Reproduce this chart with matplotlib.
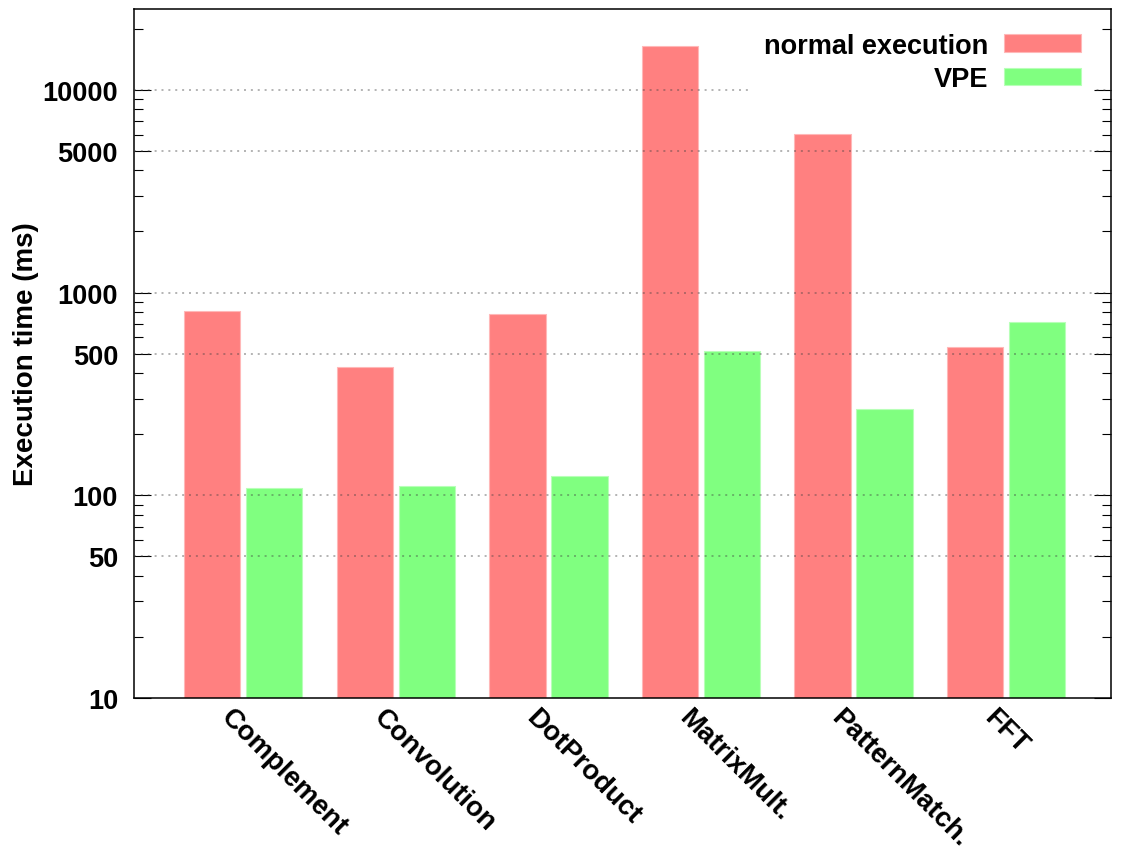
import numpy as np
import matplotlib
matplotlib.use("Agg")
import matplotlib.pyplot as plt
import matplotlib.transforms as mtransforms
from matplotlib.ticker import FixedLocator, NullFormatter

plt.rcParams.update({
    "font.family": ["Liberation Sans", "DejaVu Sans"],
    "font.weight": "bold",
    "font.size": 19.5,
})

# data (ms, log axis)
benchmarks = ["Complement", "Convolution", "DotProduct",
              "MatrixMult.", "PatternMatch.", "FFT"]
normal_ms = [814, 431, 781, 16400, 6040, 541]
vpe_ms = [109, 111, 124, 513, 267, 719]
series_names = ["normal execution", "VPE"]
series_colors = ["#ff8080", "#80ff80"]
edge_colors = ["#ffb8b8", "#b8ffb8"]

major_ticks = [10, 50, 100, 500, 1000, 5000, 10000]
grid_ticks = [50, 100, 500, 1000, 5000, 10000]
minor_ticks = [m * 10 ** k for k in range(1, 5)
               for m in (2, 3, 4, 6, 7, 8, 9) if m * 10 ** k < 25000]

fig = plt.figure(figsize=(11.38, 8.53), dpi=100)
ax = fig.add_axes([0.1180, 0.1805, 0.8587, 0.8077])
ax.set_yscale("log")

x = np.arange(len(benchmarks))
w = 0.37
off = 0.203
for i, (vals, name) in enumerate(zip([normal_ms, vpe_ms], series_names)):
    ax.bar(x + (2 * i - 1) * off, vals, w, color=series_colors[i],
           edgecolor=edge_colors[i], lw=0.8, label=name, zorder=2)

# dotted grid, drawn over the bars
for v in grid_ticks:
    ax.axhline(v, color="#404040", alpha=0.5, lw=1.1,
               ls=(0, (1.3, 3.2)), zorder=3)

ax.set_xlim(-0.714, 5.69)
ax.set_ylim(10, 25000)

ax.yaxis.set_major_locator(FixedLocator(major_ticks))
ax.yaxis.set_major_formatter(plt.FuncFormatter(lambda v, p: f"{v:g}"))
ax.yaxis.set_minor_locator(FixedLocator(minor_ticks))
ax.yaxis.set_minor_formatter(NullFormatter())
ax.tick_params(axis="y", which="major", direction="in", length=12.2,
               width=0.8, pad=11.7, right=True, labelsize=19.5)
ax.tick_params(axis="y", which="minor", direction="in", length=6.5,
               width=0.8, right=True)
for sp in ax.spines.values():
    sp.set_linewidth(1.1)

ax.set_xticks(x)
ax.set_xticklabels(benchmarks, rotation=-45, ha="left", va="top",
                   rotation_mode="anchor", fontsize=19.8, fontweight="bold")
ax.tick_params(axis="x", length=0, pad=4)
shift = mtransforms.ScaledTranslation(-9 / 100, 0, fig.dpi_scale_trans)
for lab in ax.get_xticklabels():
    lab.set_transform(lab.get_transform() + shift)

ax.set_ylabel("Execution time (ms)", fontsize=20, fontweight="bold")
ax.yaxis.set_label_coords(-0.098, 0.5)

leg = ax.legend(loc="upper right", bbox_to_anchor=(0.9826, 0.9855),
                markerfirst=False, frameon=True, fancybox=False,
                facecolor="white", edgecolor="none", framealpha=1,
                handlelength=2.84, handleheight=0.62, handletextpad=0.59,
                labelspacing=0.27, borderpad=0.5, borderaxespad=0,
                prop={"weight": "bold", "size": 19.5})
leg.set_zorder(5)

fig.savefig("out.png", dpi=100)
